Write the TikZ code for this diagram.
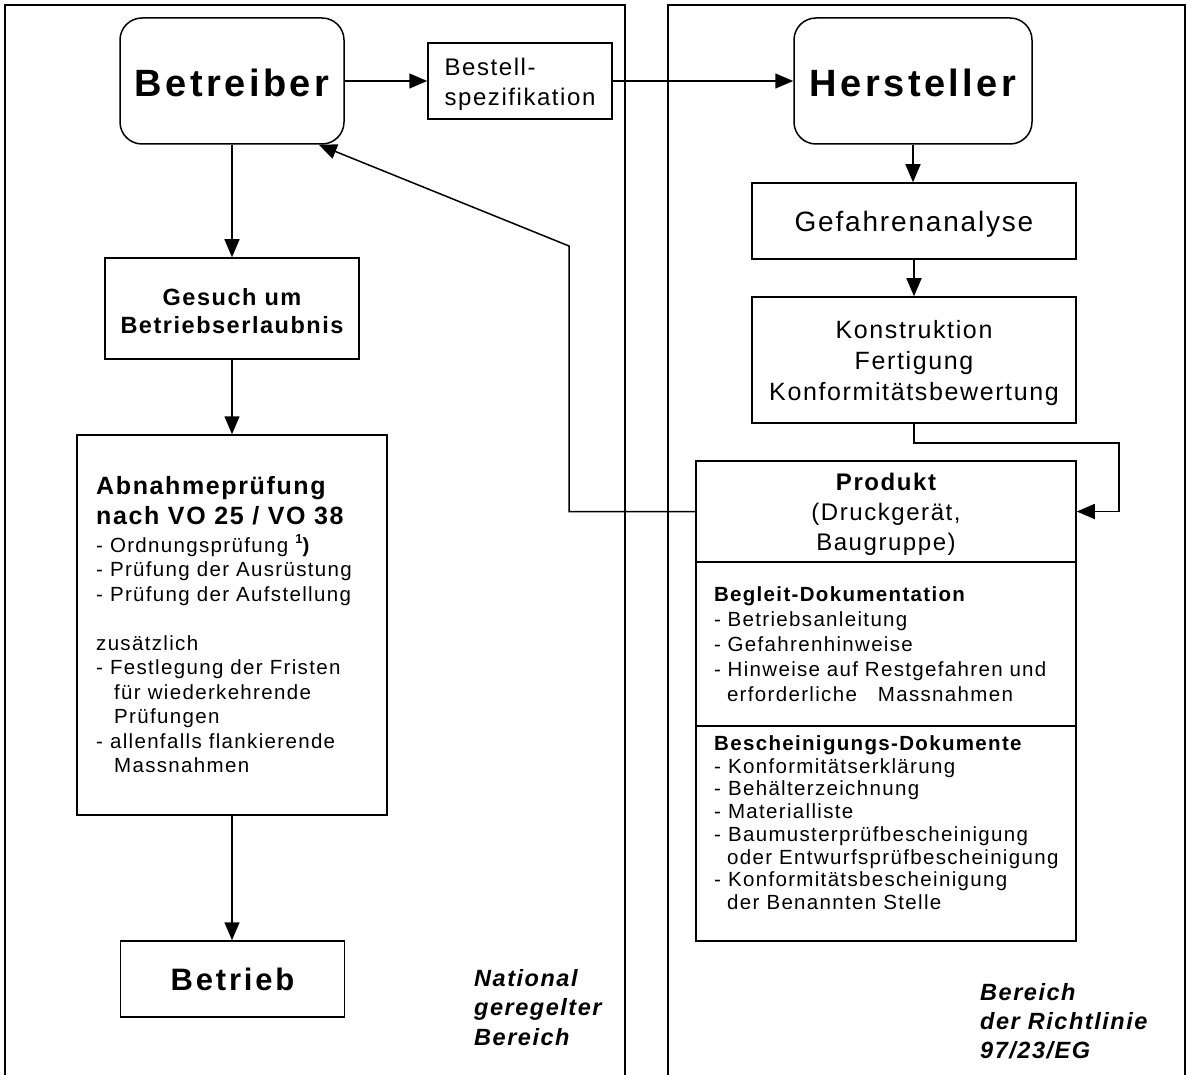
\documentclass[tikz,border=0pt]{standalone}
\usepackage{fontspec}
\setmainfont{Liberation Sans}
\newfontfamily\lsreg[LetterSpace=6.5]{Liberation Sans}
\newfontfamily\lstitle[LetterSpace=9]{Liberation Sans}
\newfontfamily\lsbig[LetterSpace=9]{Liberation Sans}
\newcommand\myfs[2]{\fontsize{#1}{#2}\selectfont}
\newcommand\upstrut[1]{\rule{0pt}{#1}}
\usetikzlibrary{arrows.meta,calc}
\begin{document}
\begin{tikzpicture}[x=1pt,y=-1pt,
  box/.style={draw, line width=1.5pt, inner sep=0pt, rectangle, align=center},
  rbox/.style={box, rounded corners=22pt},
  arr/.style={line width=1.5pt, -{Triangle[length=18pt,width=15pt]}},
  panel/.style={line width=1.1pt},
  txt/.style={inner sep=0pt, align=left, anchor=north west}]
\useasboundingbox (0,0) rectangle (1196,1075);
% panels
\draw[panel] (5,1075) |- (625,5) -- (625,1075);
\draw[panel] (668,1075) |- (1185,5) -- (1185,1075);
% left column
\node[rbox, minimum width=224pt, minimum height=126pt, font=\lstitle\bfseries\myfs{38}{44}] (betreiber) at (232,81) {\upstrut{31pt}Betreiber};
\node[box, minimum width=184pt, minimum height=76pt, align=left, font=\lsreg\myfs{24}{30}] (bestell) at (520,81) {\upstrut{23.5pt}Bestell-\\spezifikation};
\node[box, minimum width=254pt, minimum height=101pt, font=\lsreg\bfseries\myfs{23.5}{28.5}] (gesuch) at (232,308.5) {\upstrut{22pt}Gesuch um\\Betriebserlaubnis};
\node[box, minimum width=310pt, minimum height=380pt] (abnahme) at (232,625) {};
\node[txt, font=\lsreg\myfs{20.5}{24.5}] (abnahmetxt) at (96,476) {%
{\bfseries\myfs{25}{30}Abnahmeprüfung}\\[5.5pt]
{\bfseries\myfs{25}{30}nach VO 25 / VO 38}\\[3.5pt]
- Ordnungsprüfung {\bfseries\raisebox{0.42em}{\myfs{13}{13}1})}\\
- Prüfung der Ausrüstung\\
- Prüfung der Aufstellung\\[24.5pt]
zusätzlich\\
- Festlegung der Fristen\\
\hspace*{18pt}für wiederkehrende\\
\hspace*{18pt}Prüfungen\\
- allenfalls flankierende\\
\hspace*{18pt}Massnahmen};
\node[box, minimum width=224pt, minimum height=76pt, font=\lsbig\bfseries\myfs{31}{36}] (betrieb) at (232.5,979) {Betrieb};
\node[txt, font=\lsreg\bfseries\itshape\myfs{23.5}{29.5}] (national) at (474,969) {National\\geregelter\\Bereich};
% right column
\node[rbox, minimum width=238pt, minimum height=126pt, font=\lstitle\bfseries\myfs{38}{44}] (hersteller) at (913,81) {\upstrut{31pt}Hersteller};
\node[box, minimum width=324pt, minimum height=76pt, font=\lsreg\myfs{28}{34}] (gefahr) at (914,221) {\upstrut{26.5pt}Gefahrenanalyse};
\node[box, minimum width=324pt, minimum height=126pt, font=\lsreg\myfs{25}{31}] (konstr) at (914,360) {\upstrut{24.5pt}Konstruktion\\Fertigung\\Konformitätsbewertung};
\node[box, minimum width=380pt, minimum height=101pt, font=\lsreg\myfs{24}{30}] (produkt) at (886,511.5) {\upstrut{23.5pt}{\bfseries Produkt}\\(Druckgerät,\\Baugruppe)};
\node[box, minimum width=380pt, minimum height=164pt, align=left, text width=344pt, font=\lsreg\myfs{20.5}{25}] (begleit) at (886,644) {%
{\bfseries Begleit-Dokumentation}\\
- Betriebsanleitung\\
- Gefahrenhinweise\\
- Hinweise auf Restgefahren und\\
\hspace*{13pt}erforderliche\hspace{21pt}Massnahmen};
\node[box, minimum width=380pt, minimum height=215pt] (bescheinig) at (886,833.5) {};
\node[txt, font=\lsreg\myfs{20.5}{22.7}] (bescheinigtxt) at (714,735.5) {%
{\bfseries Bescheinigungs-Dokumente}\\
- Konformitätserklärung\\
- Behälterzeichnung\\
- Materialliste\\
- Baumusterprüfbescheinigung\\
\hspace*{13pt}oder Entwurfsprüfbescheinigung\\
- Konformitätsbescheinigung\\
\hspace*{13pt}der Benannten Stelle};
\node[txt, font=\lsreg\bfseries\itshape\myfs{23.5}{29}] (richtlinie) at (980,983.5) {Bereich\\der Richtlinie\\97/23/EG};
% connectors
\coordinate (bIn) at ($(betreiber.south east)+(-26,0)$);
\draw[arr] (betreiber.east) -- (bestell.west);
\draw[arr] (bestell.east) -- (hersteller.west);
\draw[arr] (betreiber.south) -- (gesuch.north);
\draw[arr] (gesuch.south) -- (abnahme.north);
\draw[arr] (abnahme.south) -- (abnahme.south |- betrieb.north);
\draw[arr] (hersteller.south) -- (hersteller.south |- gefahr.north);
\draw[arr] (gefahr.south) -- (gefahr.south |- konstr.north);
\draw[arr] (konstr.south) -- ++(0,19) -| ($(produkt.east)+(42,0)$) -- (produkt.east);
\draw[arr] (produkt.west) -| (569,246) -- (bIn);
\end{tikzpicture}
\end{document}
